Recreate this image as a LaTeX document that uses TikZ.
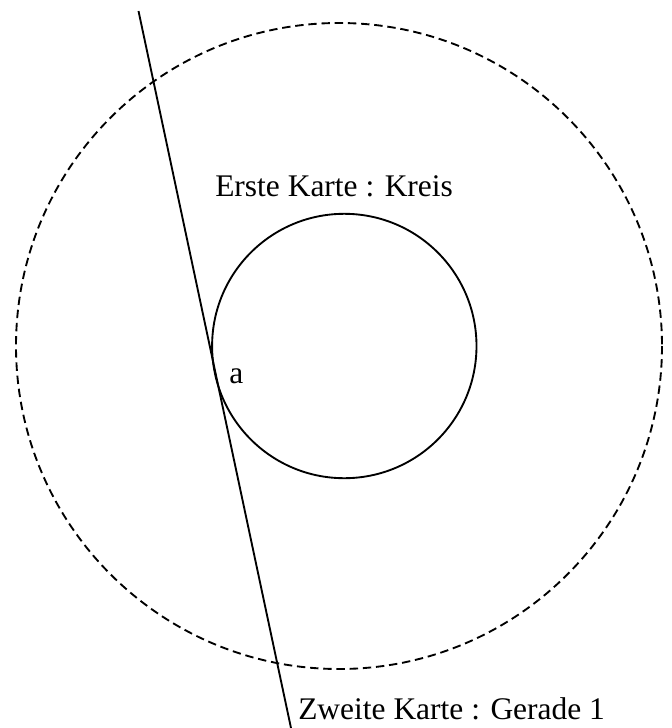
\documentclass[tikz,border=0pt]{standalone}
\usepackage{fontspec}
\setmainfont{Liberation Serif}
\begin{document}
\begin{tikzpicture}
% Karten: Kreis und Gerade
\def\pxsz{0.75pt}
\providecommand{\karteLineWidth}{1.4pt}
\tikzset{
  kartelabel/.style={anchor=base west, inner sep=0pt, font=\fontsize{23.6}{27}\selectfont},
  kartering/.style={draw=black, line width=\karteLineWidth},
  kartedash/.style={dash pattern=on 6.3pt off 3.6pt},
}
\begin{scope}[x=\pxsz, y=-\pxsz, line cap=butt, line join=round]
  % Frame of the picture
  \useasboundingbox (0,0) rectangle (671,728);
  % Centres and ends of the line
  \coordinate (aussen) at (339,346);
  \coordinate (innen) at (344.3,346);
  \coordinate (gOben) at (138.5,11);
  \coordinate (gUnten) at (291,728);
  % Dashed outer circle
  \draw[kartering, kartedash] (aussen) circle (323);
  % First map: circle
  \draw[kartering] (innen) circle (132.2);
  % Second map: straight line
  \draw[kartering] (gOben) -- (gUnten);
  % Labels
  \node[kartelabel] (kreis) at (215,196) {Erste Karte : Kreis};
  \node[kartelabel] (a) at (229,383) {a};
  \node[kartelabel] (gerade) at (298,719) {Zweite Karte : Gerade 1};
\end{scope}
\end{tikzpicture}
\end{document}
